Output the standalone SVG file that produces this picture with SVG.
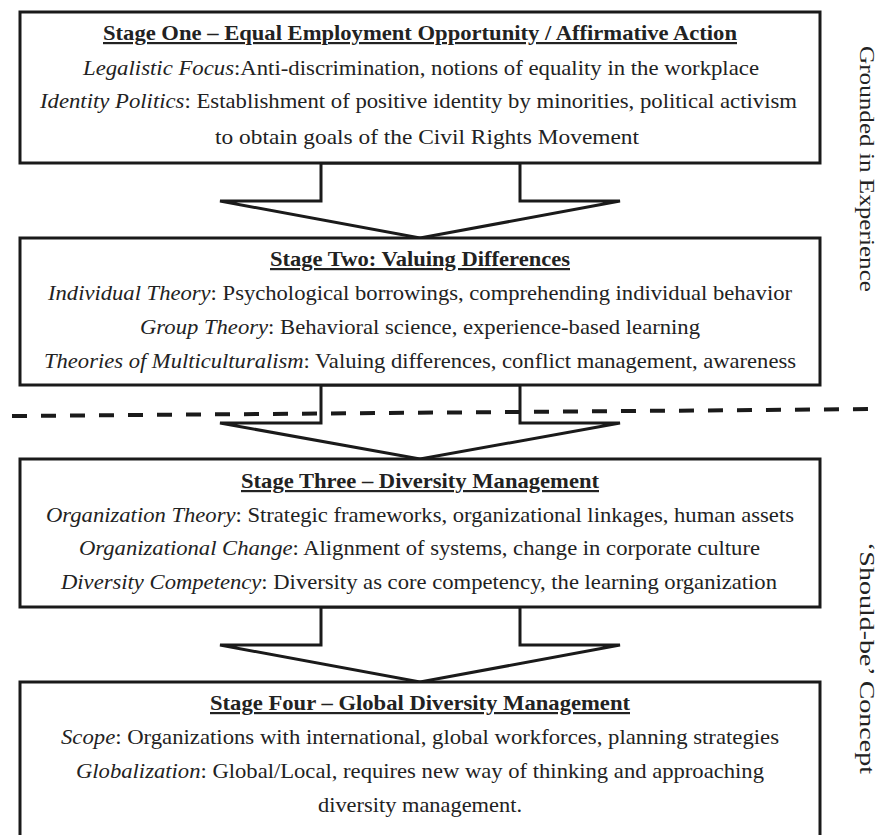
<svg xmlns="http://www.w3.org/2000/svg" width="881" height="835" viewBox="0 0 881 835">
<style>
.box{fill:#fff;stroke:#1a1a1a;stroke-width:3}
.arrow{fill:#fff;stroke:#1a1a1a;stroke-width:3;stroke-linejoin:miter}
.t{font-family:"Liberation Serif","Times New Roman",serif;font-size:22px;fill:#222}
.h{font-weight:bold;text-decoration:underline}
.i{font-style:italic}
.side{font-family:"Liberation Serif","Times New Roman",serif;font-size:22px;fill:#222}
.dash{stroke:#1a1a1a;stroke-width:4;stroke-dasharray:15 14;fill:none}
</style>
<rect width="881" height="835" fill="#fff"/>
<g id="connectors">
<polygon class="arrow" points="321,163 321,201 220,201 420,238 620,201 520,201 520,163"/>
<polygon class="arrow" points="321,385 321,423 220,423 420,459 620,423 520,423 520,385"/>
<polygon class="arrow" points="321,607 321,645 220,645 420,682 620,645 520,645 520,607"/>
</g>
<g id="stage1">
<rect class="box" x="20" y="12" width="800" height="151"/>
<text class="t h" x="103" y="40" textLength="634" lengthAdjust="spacingAndGlyphs">Stage One – Equal Employment Opportunity / Affirmative Action</text>
<text class="t" x="83" y="75" textLength="676" lengthAdjust="spacingAndGlyphs"><tspan class="i">Legalistic Focus</tspan>:Anti-discrimination, notions of equality in the workplace</text>
<text class="t" x="40" y="108" textLength="757" lengthAdjust="spacingAndGlyphs"><tspan class="i">Identity Politics</tspan>: Establishment of positive identity by minorities, political activism</text>
<text class="t" x="215" y="144" textLength="424" lengthAdjust="spacingAndGlyphs">to obtain goals of the Civil Rights Movement</text>
</g>
<g id="stage2">
<rect class="box" x="20" y="238" width="800" height="147"/>
<text class="t h" x="270" y="266" textLength="300" lengthAdjust="spacingAndGlyphs">Stage Two: Valuing Differences</text>
<text class="t" x="48" y="300" textLength="744" lengthAdjust="spacingAndGlyphs"><tspan class="i">Individual Theory</tspan>: Psychological borrowings, comprehending individual behavior</text>
<text class="t" x="140" y="334" textLength="560" lengthAdjust="spacingAndGlyphs"><tspan class="i">Group Theory</tspan>: Behavioral science, experience-based learning</text>
<text class="t" x="44" y="368" textLength="752" lengthAdjust="spacingAndGlyphs"><tspan class="i">Theories of Multiculturalism</tspan>: Valuing differences, conflict management, awareness</text>
</g>
<g id="stage3">
<rect class="box" x="20" y="459" width="800" height="148"/>
<text class="t h" x="241" y="488" textLength="358" lengthAdjust="spacingAndGlyphs">Stage Three – Diversity Management</text>
<text class="t" x="46" y="522" textLength="748" lengthAdjust="spacingAndGlyphs"><tspan class="i">Organization Theory</tspan>: Strategic frameworks, organizational linkages, human assets</text>
<text class="t" x="79" y="555" textLength="681" lengthAdjust="spacingAndGlyphs"><tspan class="i">Organizational Change</tspan>: Alignment of systems, change in corporate culture</text>
<text class="t" x="61" y="589" textLength="716" lengthAdjust="spacingAndGlyphs"><tspan class="i">Diversity Competency</tspan>: Diversity as core competency, the learning organization</text>
</g>
<g id="stage4">
<rect class="box" x="20" y="682" width="800" height="175"/>
<text class="t h" x="210" y="710" textLength="420" lengthAdjust="spacingAndGlyphs">Stage Four – Global Diversity Management</text>
<text class="t" x="61" y="744" textLength="718" lengthAdjust="spacingAndGlyphs"><tspan class="i">Scope</tspan>: Organizations with international, global workforces, planning strategies</text>
<text class="t" x="76" y="778" textLength="688" lengthAdjust="spacingAndGlyphs"><tspan class="i">Globalization</tspan>: Global/Local, requires new way of thinking and approaching</text>
<text class="t" x="318" y="812" textLength="204" lengthAdjust="spacingAndGlyphs">diversity management.</text>
</g>
<g id="divider">
<line class="dash" x1="12" y1="416" x2="881" y2="409"/>
</g>
<g id="label-grounded">
<text class="side" transform="translate(860,169) rotate(90)" text-anchor="middle" textLength="246" lengthAdjust="spacingAndGlyphs">Grounded in Experience</text>
</g>
<g id="label-shouldbe">
<text class="side" transform="translate(860,658) rotate(90)" text-anchor="middle" textLength="232" lengthAdjust="spacingAndGlyphs">‘Should-be’ Concept</text>
</g>
</svg>
